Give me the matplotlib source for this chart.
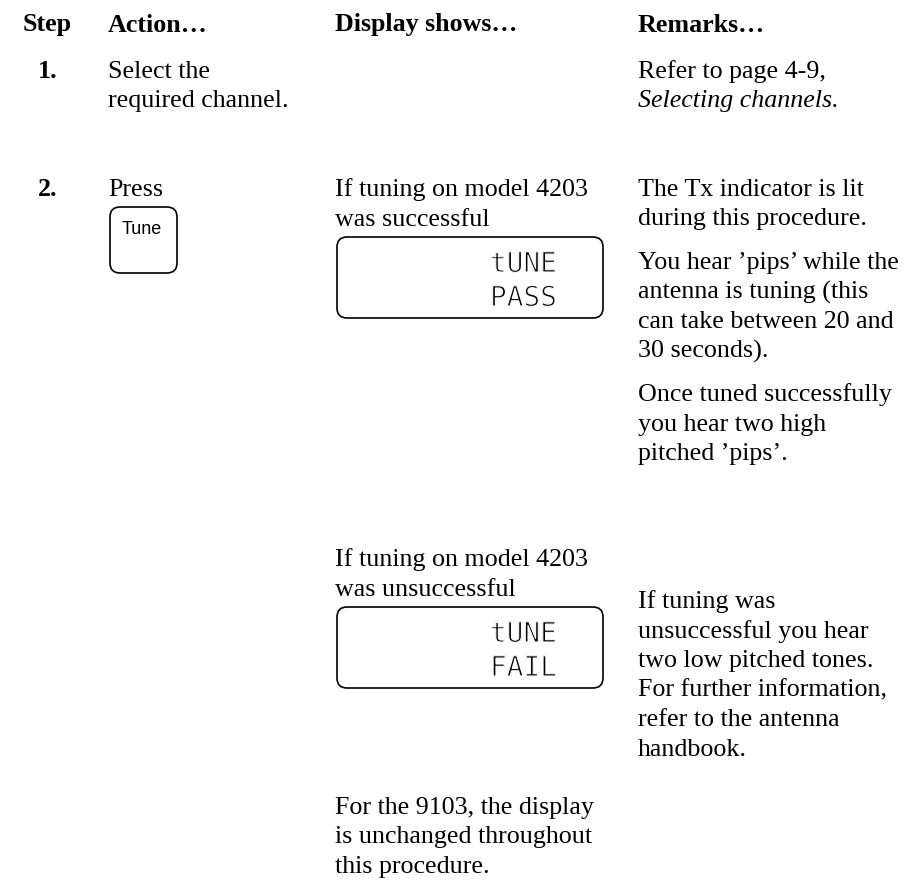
import matplotlib.pyplot as plt
import matplotlib.patheffects as pe
from matplotlib.patches import FancyBboxPatch

headers = ["Step", "Action…", "Display shows…", "Remarks…"]
steps = ["1.", "2."]

action_1 = ["Select the", "required channel."]
remark_1 = ["Refer to page 4-9,", "Selecting channels."]

action_2 = "Press"
key_label = "Tune"

display_ok = ["If tuning on model 4203", "was successful"]
lcd_ok = ["tUNE", "PASS"]
remark_ok = [
    ["The Tx indicator is lit", "during this procedure."],
    ["You hear ’pips’ while the", "antenna is tuning (this",
     "can take between 20 and", "30 seconds)."],
    ["Once tuned successfully", "you hear two high", "pitched ’pips’."],
]

display_fail = ["If tuning on model 4203", "was unsuccessful"]
lcd_fail = ["tUNE", "FAIL"]
remark_fail = ["If tuning was", "unsuccessful you hear", "two low pitched tones.",
               "For further information,", "refer to the antenna", "handbook."]

display_9103 = ["For the 9103, the display", "is unchanged throughout",
                "this procedure."]

serif = "Liberation Serif"
fs = 18.7
lead = 29.5

fig = plt.figure(figsize=(9.05, 8.96), dpi=100)
ax = fig.add_axes([0, 0, 1, 1])
ax.set_xlim(0, 905)
ax.set_ylim(896, 0)
ax.axis("off")

col_x = [23, 108, 335, 638]

# thin the monospace glyphs so they look like LCD segments
thin = [pe.Normal(), pe.Stroke(linewidth=0.8, foreground="white")]


def lines(x, y, items, **kw):
    for i, s in enumerate(items):
        ax.text(x, y + i * lead, s, family=serif, fontsize=fs, va="center", **kw)


def lcd(y, rows):
    box = FancyBboxPatch((337, y), 266, 81, boxstyle="round,pad=0,rounding_size=10",
                         fill=False, lw=1.2, ec="black")
    ax.add_patch(box)
    for r, s in enumerate(rows):
        ax.text(557, y + 27 + r * 34, s, family="DejaVu Sans Mono", fontsize=20,
                ha="right", va="center", color="black", path_effects=thin)


# header
for x, h in zip(col_x, headers):
    ax.text(x, 25, h, family=serif, fontsize=fs, fontweight="bold", va="center")

# step 1
ax.text(57, 72, steps[0], family=serif, fontsize=fs, fontweight="bold",
        ha="right", va="center")
lines(col_x[1], 72, action_1)
ax.text(col_x[3], 72, remark_1[0], family=serif, fontsize=fs, va="center")
ax.text(col_x[3], 72 + lead, remark_1[1], family=serif, fontsize=fs,
        style="italic", va="center")

# step 2
ax.text(57, 190, steps[1], family=serif, fontsize=fs, fontweight="bold",
        ha="right", va="center")
ax.text(col_x[1], 190, action_2, family=serif, fontsize=fs, va="center")
key = FancyBboxPatch((110, 207), 67, 66, boxstyle="round,pad=0,rounding_size=10",
                     fill=False, lw=1.2, ec="black")
ax.add_patch(key)
ax.text(122, 230, key_label, family="Liberation Sans", fontsize=13, va="center")

lines(col_x[2], 190, display_ok)
lcd(237, lcd_ok)

y = 190
for block in remark_ok:
    lines(col_x[3], y, block)
    y += len(block) * lead + 14

lines(col_x[2], 560, display_fail)
lcd(607, lcd_fail)
lines(col_x[3], 602, remark_fail)

lines(col_x[2], 808, display_9103)

fig.savefig("out.png", dpi=100, facecolor="white")
